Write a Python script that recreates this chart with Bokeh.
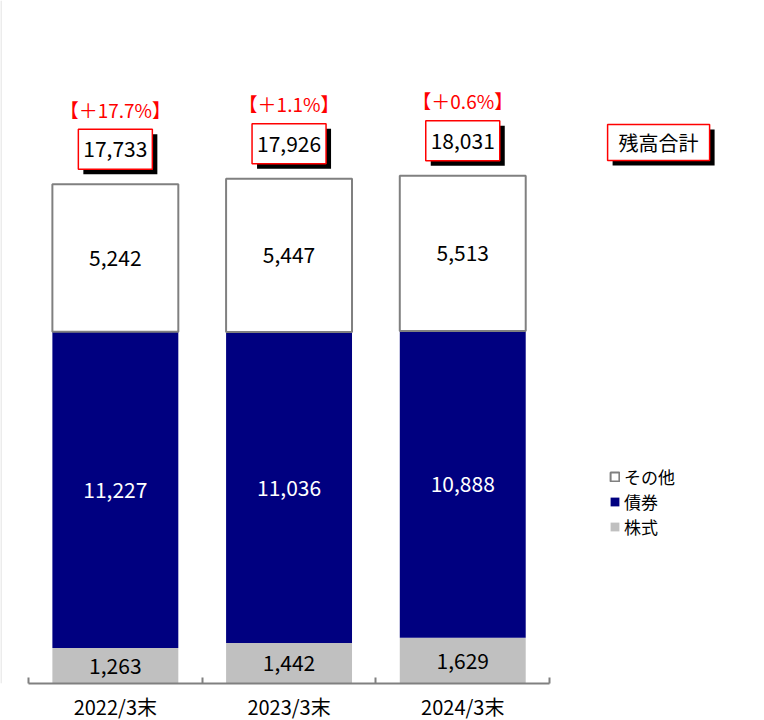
from bokeh.plotting import figure
from bokeh.models import (Range1d, FixedTicker, ColumnDataSource, Legend,
                          LegendItem, Span)
from bokeh.core.properties import value
from bokeh.embed import file_html
from bokeh.resources import INLINE
import numpy as np

# ---------------- data ----------------
categories = ["2022/3末", "2023/3末", "2024/3末"]
stocks = [1263, 1442, 1629]      # 株式
bonds = [11227, 11036, 10888]    # 債券
others = [5242, 5447, 5513]      # その他
totals = [17733, 17926, 18031]   # 残高合計
growth = ["【＋17.7%】", "【＋1.1%】", "【＋0.6%】"]
series_names = ["株式", "債券", "その他"]
total_caption = "残高合計"

# ---------------- layout constants ----------------
FONT = "Noto Sans CJK JP"
FRAME_W, FRAME_H = 764, 683
CAT_PX = 173.7            # pixels per category
X0_PX = 28                # axis start from frame left
X_START = -X0_PX / CAT_PX
X_END = (FRAME_W - X0_PX) / CAT_PX
PX_PER_UNIT = 0.02816     # vertical pixels per value unit
Y_END = FRAME_H / PX_PER_UNIT

def dx(px):
    return px / CAT_PX

def dy(px):
    return px / PX_PER_UNIT

GRAY_EDGE = "#808080"
NAVY = "#000080"
SILVER = "#C0C0C0"
RED = "#FF0000"

xc = np.arange(len(categories)) + 0.5
st = np.array(stocks, float)
bo = np.array(bonds, float)
ot = np.array(others, float)
tot = np.array(totals, float)

src = ColumnDataSource(dict(
    x=xc, stocks=st, bonds=bo, others=ot,
    stock_mid=st / 2, bond_mid=st + bo / 2, other_mid=st + bo + ot / 2,
    stock_lbl=[f"{v:,}" for v in stocks],
    bond_lbl=[f"{v:,}" for v in bonds],
    other_lbl=[f"{v:,}" for v in others],
    tot_lbl=[f"{v:,}" for v in totals],
    growth=growth,
    box_y=tot + dy(35), shadow_x=xc + dx(5), shadow_y=tot + dy(35) - dy(5),
    growth_y=tot + dy(75),
))

p = figure(frame_width=FRAME_W, frame_height=FRAME_H,
           x_range=Range1d(X_START, X_END), y_range=Range1d(0, Y_END),
           output_backend="svg", toolbar_location=None,
           y_axis_location=None, min_border_left=0, min_border_right=0,
           min_border_top=0, min_border_bottom=37)
p.outline_line_color = None
p.xgrid.visible = False
p.ygrid.visible = False
p.background_fill_color = "white"
p.border_fill_color = "white"

# faint chart border on the left edge
p.add_layout(Span(location=X_START + dx(0.5), dimension="height",
                  line_color="#D9D9D9", line_width=1))

# stacked bars
renderers = p.vbar_stack(["stocks", "bonds", "others"], x="x", width=0.725,
                         source=src,
                         fill_color=[SILVER, NAVY, "white"],
                         line_color=[None, None, GRAY_EDGE],
                         line_width=[0, 0, 2])
r_stock, r_bond, r_other = renderers

# segment labels
common = dict(text_font=value(FONT), text_font_size="21px",
              text_align="center", text_baseline="middle", source=src)
p.text(x="x", y="stock_mid", text="stock_lbl", text_color="black", **common)
p.text(x="x", y="bond_mid", text="bond_lbl", text_color="white", **common)
p.text(x="x", y="other_mid", text="other_lbl", text_color="black", **common)

# total boxes with shadow
p.rect(x="shadow_x", y="shadow_y", width=74, height=40, width_units="screen",
       height_units="screen", fill_color="black", line_color=None, source=src)
p.rect(x="x", y="box_y", width=74, height=40, width_units="screen",
       height_units="screen", fill_color="white", line_color=RED,
       line_width=1.5, source=src)
p.text(x="x", y="box_y", text="tot_lbl", text_color="black", **common)

# growth rates
p.text(x="x", y="growth_y", text="growth", text_color=RED,
       text_font=value(FONT), text_font_size="19px", text_align="center",
       text_baseline="middle", source=src)

# caption box 残高合計
cap_x = 3 + dx(109)
cap_y = dy(541)
cap_src = ColumnDataSource(dict(x=[cap_x], y=[cap_y], sx=[cap_x + dx(5)],
                                sy=[cap_y - dy(5)], t=[total_caption]))
p.rect(x="sx", y="sy", width=102, height=36, width_units="screen",
       height_units="screen", fill_color="black", line_color=None,
       source=cap_src)
p.rect(x="x", y="y", width=102, height=36, width_units="screen",
       height_units="screen", fill_color="white", line_color=RED,
       line_width=1.5, source=cap_src)
p.text(x="x", y="y", text="t", text_color="black", text_font=value(FONT),
       text_font_size="20px", text_align="center", text_baseline="middle",
       source=cap_src)

# x axis: ticks between categories, labels at centers
ax = p.xaxis[0]
ax.ticker = FixedTicker(ticks=list(xc), minor_ticks=[0, 1, 2, 3])
ax.major_label_overrides = {float(v): c for v, c in zip(xc, categories)}
ax.bounds = (0, 3)
ax.axis_line_color = GRAY_EDGE
ax.axis_line_width = 2
ax.major_tick_in = 0
ax.major_tick_out = 0
ax.minor_tick_in = 6
ax.minor_tick_out = 0
ax.minor_tick_line_color = GRAY_EDGE
ax.minor_tick_line_width = 2
ax.major_label_standoff = 8
ax.major_label_text_font = FONT
ax.major_label_text_font_size = "20px"
ax.major_label_text_color = "black"

# legend
legend = Legend(items=[
    LegendItem(label=series_names[2], renderers=[r_other]),
    LegendItem(label=series_names[1], renderers=[r_bond]),
    LegendItem(label=series_names[0], renderers=[r_stock]),
], location=(609, 144), orientation="vertical",
    label_text_font=FONT, label_text_font_size="17px",
    label_text_color="black",
    glyph_width=11, glyph_height=11, label_standoff=4, spacing=0,
    padding=0, margin=0, label_height=24, border_line_color=None,
    background_fill_alpha=0)
p.add_layout(legend)

open("out.html", "w").write(file_html(p, INLINE))
